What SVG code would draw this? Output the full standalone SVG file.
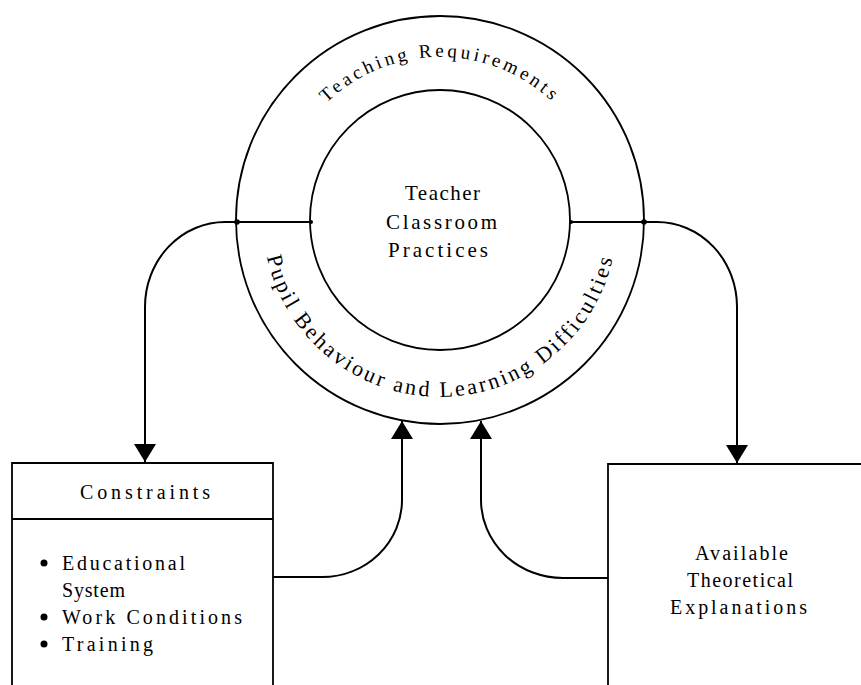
<svg xmlns="http://www.w3.org/2000/svg" width="861" height="685" viewBox="0 0 861 685">
<style>
.ln{fill:none;stroke:#000;stroke-width:1.8}
.cn{fill:none;stroke:#000;stroke-width:2}
.t{font-family:"Liberation Serif","Times New Roman",serif;fill:#000}
.bt{font-size:22px;letter-spacing:2.7px}
.dot{fill:#000}
</style>
<defs>
<marker id="ah" viewBox="0 0 18 22" refX="18" refY="11" markerWidth="18" markerHeight="22" markerUnits="userSpaceOnUse" orient="auto">
<path d="M0,0 L18,11 L0,22 z" fill="#000"/>
</marker>
<path id="arcTop" d="M324.7,104.7 A163,163 0 0 1 555.3,104.7"/>
<path id="arcBot" d="M266.9,256.8 A177,177 0 0 0 613.1,256.8"/>
</defs>
<rect width="861" height="685" fill="#fff"/>

<g id="ring">
<circle class="ln" cx="440" cy="220" r="204"/>
<text class="t" font-size="19" letter-spacing="3.4"><textPath href="#arcTop" startOffset="50%" text-anchor="middle">Teaching Requirements</textPath></text>
<text class="t bt"><textPath href="#arcBot" startOffset="0">Pupil</textPath></text>
<text class="t bt"><textPath href="#arcBot" startOffset="68.2">Behaviour</textPath></text>
<text class="t bt"><textPath href="#arcBot" startOffset="192.4">and</textPath></text>
<text class="t bt"><textPath href="#arcBot" startOffset="240.5">Learning</textPath></text>
<text class="t bt"><textPath href="#arcBot" startOffset="349.7">Difficulties</textPath></text>
</g>

<g id="core">
<circle class="ln" cx="440" cy="220" r="130"/>
<text class="t" font-size="21" x="442.5" y="200" text-anchor="middle" textLength="75" lengthAdjust="spacing">Teacher</text>
<text class="t" font-size="21" x="441.5" y="229" text-anchor="middle" textLength="111" lengthAdjust="spacing">Classroom</text>
<text class="t" font-size="21" x="438" y="257" text-anchor="middle" textLength="100" lengthAdjust="spacing">Practices</text>
</g>

<g id="constraints">
<path class="ln" d="M12,685 V463 H273 V685 M12,519 H273"/>
<text class="t" font-size="20" x="80" y="499" textLength="130" lengthAdjust="spacing">Constraints</text>
<circle class="dot" cx="44" cy="563" r="3.5"/>
<text class="t" font-size="20" x="62" y="570" textLength="123" lengthAdjust="spacing">Educational</text>
<text class="t" font-size="20" x="62" y="597" textLength="63" lengthAdjust="spacing">System</text>
<circle class="dot" cx="44" cy="617" r="3.5"/>
<text class="t" font-size="20" x="62" y="624" textLength="180" lengthAdjust="spacing">Work Conditions</text>
<circle class="dot" cx="44" cy="644" r="3.5"/>
<text class="t" font-size="20" x="62" y="651" textLength="91" lengthAdjust="spacing">Training</text>
</g>

<g id="explanations">
<path class="ln" d="M608,685 V464 H861"/>
<text class="t" font-size="20" x="741.5" y="560" text-anchor="middle" textLength="93" lengthAdjust="spacing">Available</text>
<text class="t" font-size="20" x="740" y="587" text-anchor="middle" textLength="106" lengthAdjust="spacing">Theoretical</text>
<text class="t" font-size="20" x="738.5" y="614" text-anchor="middle" textLength="137" lengthAdjust="spacing">Explanations</text>
</g>

<g id="connectors">
<path class="cn" d="M311,222 H225 A80,85 0 0 0 145,307 V462" marker-end="url(#ah)"/>
<path class="cn" d="M571,222 H657 A80,85 0 0 1 737,307 V463" marker-end="url(#ah)"/>
<path class="cn" d="M273,577 H322 A80,77 0 0 0 402,500 V421" marker-end="url(#ah)"/>
<path class="cn" d="M608,578 H563 A82,78 0 0 1 481,500 V421" marker-end="url(#ah)"/>
<circle class="dot" cx="237" cy="222" r="2.8"/>
<circle class="dot" cx="644" cy="222" r="2.8"/>
<circle class="dot" cx="311" cy="222" r="2"/>
<circle class="dot" cx="571" cy="222" r="2"/>
</g>
</svg>
